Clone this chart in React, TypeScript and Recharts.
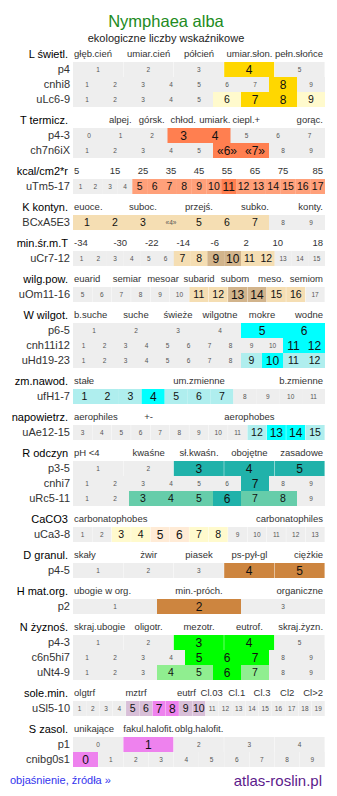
import { Bar, BarChart, Cell, LabelList, XAxis, YAxis } from "recharts";

const FONT = '"Liberation Sans", Arial, Helvetica, sans-serif';
const GREY = "#eeeeee";
const STRIP_W = 252;
const ROW_H = 15;

// cell labels
const C0_4 = ["0", "1", "2", "3", "4"];
const C0_7 = ["0", "1", "2", "3", "4", "5", "6", "7"];
const C0_9 = ["0", "1", "2", "3", "4", "5", "6", "7", "8", "9"];
const C1_3 = ["1", "2", "3"];
const C1_5 = ["1", "2", "3", "4", "5"];
const C1_6 = ["1", "2", "3", "4", "5", "6"];
const C1_9 = ["1", "2", "3", "4", "5", "6", "7", "8", "9"];
const C1_11 = ["1", "2", "3", "4", "5", "6", "7", "8", "9", "10", "11"];
const C1_12 = ["1", "2", "3", "4", "5", "6", "7", "8", "9", "10", "11", "12"];
const C1_13 = ["1", "2", "3", "4", "5", "6", "7", "8", "9", "10", "11", "12", "13"];
const C1_15 = ["1", "2", "3", "4", "5", "6", "7", "8", "9", "10", "11", "12", "13", "14", "15"];
const C1_17 = ["1", "2", "3", "4", "5", "6", "7", "8", "9", "10", "11", "12", "13", "14", "15", "16", "17"];
const C1_19 = ["1", "2", "3", "4", "5", "6", "7", "8", "9", "10", "11", "12", "13", "14", "15", "16", "17", "18", "19"];
const C3_15 = ["3", "4", "5", "6", "7", "8", "9", "10", "11", "12", "13", "14", "15"];
const C5_17 = ["5", "6", "7", "8", "9", "10", "11", "12", "13", "14", "15", "16", "17"];
const C_T_CH = ["1", "2", "3", "4", "5", "«6»", "«7»", "8", "9"];
const C_K = ["1", "2", "3", "«4»", "5", "6", "7", "8", "9"];

// levels: 0 none, 1 light, 2 strong, 3 light fill with small text
const L_P = [0, 0, 0, 2, 0];
const L_CN = [0, 0, 0, 0, 0, 0, 0, 2, 0];
const L_U = [0, 0, 0, 0, 0, 1, 2, 2, 1];
const T_P = [0, 0, 0, 2, 2, 0, 0, 0];
const T_CH = [0, 0, 0, 0, 0, 2, 2, 0, 0];
const KCAL_U = [0, 0, 0, 0, 1, 1, 1, 1, 1, 1, 2, 1, 1, 1, 1, 1, 1];
const K_BC = [1, 1, 1, 3, 1, 1, 1, 0, 0];
const MIN_U = [0, 0, 0, 0, 0, 0, 1, 1, 2, 2, 1, 1, 0, 0, 0];
const WILG_U = [0, 0, 0, 0, 0, 0, 1, 1, 2, 2, 1, 1, 0];
const W_P = [0, 0, 0, 0, 2, 2];
const W_CN = [0, 0, 0, 0, 0, 0, 0, 0, 0, 0, 2, 2];
const W_U = [0, 0, 0, 0, 0, 0, 0, 0, 1, 2, 1, 1];
const ZM_U = [1, 1, 1, 2, 1, 1, 1, 0, 0, 0, 0];
const NAP_U = [0, 0, 0, 0, 0, 0, 0, 0, 0, 1, 2, 2, 1];
const R_P = [0, 0, 2, 2, 2];
const R_CN = [0, 0, 0, 0, 0, 0, 2, 0, 0];
const R_U = [0, 0, 1, 1, 1, 2, 1, 1, 0];
const CA_U = [0, 0, 1, 1, 2, 2, 1, 1, 0, 0, 0, 0, 0];
const D_P = [0, 0, 0, 2, 2];
const H_P = [0, 2, 0];
const N_P = [0, 0, 2, 2, 0];
const N_CN = [0, 0, 0, 0, 2, 2, 2, 0, 0];
const N_U = [0, 0, 0, 1, 1, 2, 1, 0, 0];
const SOLE_U = [0, 0, 0, 0, 1, 1, 2, 2, 1, 1, 0, 0, 0, 0, 0, 0, 0, 0, 0];
const S_P = [0, 2, 0, 0, 0];
const S_CN = [2, 0, 0, 0, 0, 0, 0, 0, 0, 0];

// header labels
const H_L = ["głęb.cień", "umiar.cień", "półcień", "umiar.słon.", "pełn.słońce"];
const H_T = ["", "alpej.", "górsk.", "chłod.", "umiark.", "ciepl.+", "", "gorąc."];
const H_KCAL = ["5", "15", "25", "35", "45", "55", "65", "75", "85"];
const H_K = ["euoce.", "", "suboc.", "", "przejś.", "", "subko.", "", "konty."];
const H_MIN = ["-34", "-30", "-22", "-14", "-6", "2", "10", "18"];
const H_WILG = ["euarid", "semiar", "mesoar", "subarid", "subom", "meso.", "semiom"];
const H_W = ["b.suche", "suche", "świeże", "wilgotne", "mokre", "wodne"];
const H_ZM = ["stałe", "um.zmienne", "b.zmienne"];
const H_NAP = ["aerophiles", "+-", "", "aerophobes", ""];
const H_R = ["pH <4", "kwaśne", "sł.kwaśn.", "obojętne", "zasadowe"];
const H_CA = ["carbonatophobes", "carbonatophiles"];
const H_D = ["skały", "żwir", "piasek", "ps-pył-gl", "ciężkie"];
const H_H = ["ubogie w org.", "min.-próch.", "organiczne"];
const H_N = ["skraj.ubogie", "oligotr.", "mezotr.", "eutrof.", "skraj.żyzn."];
const H_SOLE = ["olgtrf", "", "mztrf", "", "eutrf", "Cl.03", "Cl.1", "Cl.3", "Cl2", "Cl>2"];
const H_S = ["unikające", "fakul.halofit.", "oblg.halofit.", "", ""];

type RowDef = { name: string; cells: string[]; levels: number[] };
type SectionDef = { title: string; head: string[]; light: string; strong: string; rows: RowDef[] };

const sections: SectionDef[] = [
  { title: "L świetl.", head: H_L, light: "#fffacd", strong: "#ffd700", rows: [
    { name: "p4", cells: C1_5, levels: L_P },
    { name: "cnhi8", cells: C1_9, levels: L_CN },
    { name: "uLc6-9", cells: C1_9, levels: L_U }
  ] },
  { title: "T termicz.", head: H_T, light: "#ffa07a", strong: "#ff7f50", rows: [
    { name: "p4-3", cells: C0_7, levels: T_P },
    { name: "ch7n6iX", cells: C_T_CH, levels: T_CH }
  ] },
  { title: "kcal/cm2*r", head: H_KCAL, light: "#ffa07a", strong: "#ff7f50", rows: [
    { name: "uTm5-17", cells: C1_17, levels: KCAL_U }
  ] },
  { title: "K kontyn.", head: H_K, light: "#f5deb3", strong: "#d2b48c", rows: [
    { name: "BCxA5E3", cells: C_K, levels: K_BC }
  ] },
  { title: "min.śr.m.T", head: H_MIN, light: "#f5deb3", strong: "#d2b48c", rows: [
    { name: "uCr7-12", cells: C1_15, levels: MIN_U }
  ] },
  { title: "wilg.pow.", head: H_WILG, light: "#f5deb3", strong: "#d2b48c", rows: [
    { name: "uOm11-16", cells: C5_17, levels: WILG_U }
  ] },
  { title: "W wilgot.", head: H_W, light: "#afeeee", strong: "#00ffff", rows: [
    { name: "p6-5", cells: C1_6, levels: W_P },
    { name: "cnh11i12", cells: C1_12, levels: W_CN },
    { name: "uHd19-23", cells: C1_12, levels: W_U }
  ] },
  { title: "zm.nawod.", head: H_ZM, light: "#afeeee", strong: "#00ffff", rows: [
    { name: "ufH1-7", cells: C1_11, levels: ZM_U }
  ] },
  { title: "napowietrz.", head: H_NAP, light: "#afeeee", strong: "#00ffff", rows: [
    { name: "uAe12-15", cells: C3_15, levels: NAP_U }
  ] },
  { title: "R odczyn", head: H_R, light: "#66cdaa", strong: "#20b2aa", rows: [
    { name: "p3-5", cells: C1_5, levels: R_P },
    { name: "cnhi7", cells: C1_9, levels: R_CN },
    { name: "uRc5-11", cells: C1_9, levels: R_U }
  ] },
  { title: "CaCO3", head: H_CA, light: "#fffacd", strong: "#ffebd6", rows: [
    { name: "uCa3-8", cells: C1_13, levels: CA_U }
  ] },
  { title: "D granul.", head: H_D, light: "#deb887", strong: "#cd853f", rows: [
    { name: "p4-5", cells: C1_5, levels: D_P }
  ] },
  { title: "H mat.org.", head: H_H, light: "#deb887", strong: "#cd853f", rows: [
    { name: "p2", cells: C1_3, levels: H_P }
  ] },
  { title: "N żyznoś.", head: H_N, light: "#90ee90", strong: "#00ff00", rows: [
    { name: "p4-3", cells: C1_5, levels: N_P },
    { name: "c6n5hi7", cells: C1_9, levels: N_CN },
    { name: "uNt4-9", cells: C1_9, levels: N_U }
  ] },
  { title: "sole.min.", head: H_SOLE, light: "#d8bfd8", strong: "#ee82ee", rows: [
    { name: "uSl5-10", cells: C1_19, levels: SOLE_U }
  ] },
  { title: "S zasol.", head: H_S, light: "#d8bfd8", strong: "#ee82ee", rows: [
    { name: "p1", cells: C0_4, levels: S_P },
    { name: "cnibg0s1", cells: C0_9, levels: S_CN }
  ] }
];

function Header({ title, head }: { title: string; head: string[] }) {
  const n = head.length;
  return (
    <div style={{ display: "flex", height: 21, alignItems: "flex-start" }}>
      <div style={{ width: 60, flexShrink: 0, paddingTop: 6, lineHeight: "14px", fontSize: 11, textAlign: "right", whiteSpace: "nowrap", color: "#000" }}>
        {title}
      </div>
      <div style={{ marginLeft: 5, width: STRIP_W, flexShrink: 0, display: "flex", paddingTop: 6, height: 14 }}>
        {head.map((h, i) => (
          <div key={i} style={{ flex: 1, position: "relative", height: 14 }}>
            <span
              style={{
                position: "absolute",
                top: 0,
                lineHeight: "14px",
                fontSize: 9.5,
                color: "#333",
                whiteSpace: "nowrap",
                ...(i === 0 ? { left: 1 } : i === n - 1 ? { right: 2 } : { left: "50%", transform: "translateX(-50%)" })
              }}
            >
              {h}
            </span>
          </div>
        ))}
      </div>
    </div>
  );
}

function Strip({ cells, levels, light, strong }: { cells: string[]; levels: number[]; light: string; strong: string }) {
  const data = cells.map((c, i) => ({ cell: c, v: 1, level: levels[i] }));
  const renderLabel = (p: any) => {
    const d = data[p.index] ?? data.find((c) => c.cell === p.value);
    const lv = d ? d.level : 0;
    const fs = lv === 2 ? 12 : lv === 1 ? 10.5 : 6.5;
    return (
      <text
        x={p.x + p.width / 2}
        y={p.y + p.height / 2 + fs * 0.36}
        textAnchor="middle"
        fontSize={fs}
        fontFamily={FONT}
        fill={lv === 1 || lv === 2 ? "#111" : "#555"}
      >
        {p.value}
      </text>
    );
  };
  return (
    <BarChart width={STRIP_W} height={ROW_H} data={data} margin={{ top: 0, right: 0, bottom: 0, left: 0 }} barCategoryGap={0} barGap={0}>
      <XAxis dataKey="cell" type="category" hide />
      <YAxis type="number" domain={[0, 1]} hide />
      <Bar dataKey="v" isAnimationActive={false}>
        {data.map((d, i) => (
          <Cell key={i} fill={d.level === 2 ? strong : d.level === 0 ? GREY : light} />
        ))}
        <LabelList dataKey="cell" content={renderLabel} />
      </Bar>
    </BarChart>
  );
}

export default function App() {
  return (
    <div style={{ position: "relative", width: 321, fontFamily: FONT }}>
      <div style={{ position: "absolute", top: 3, left: 0, width: 316, textAlign: "center", fontSize: 16.5, lineHeight: "20px", color: "#228b22" }}>
        Nymphaea alba
      </div>
      <div style={{ position: "absolute", top: 23, left: 0, width: 316, textAlign: "center", fontSize: 11, lineHeight: "14px", color: "#222" }}>
        ekologiczne liczby wskaźnikowe
      </div>
      <div style={{ paddingTop: 33 }}>
        {sections.map((s) => (
          <div key={s.title}>
            <Header title={s.title} head={s.head} />
            {s.rows.map((r) => (
              <div key={r.name} style={{ display: "flex", height: ROW_H }}>
                <div style={{ width: 62, flexShrink: 0, paddingRight: 3, fontSize: 11, lineHeight: `${ROW_H}px`, textAlign: "right", color: "#333", whiteSpace: "nowrap" }}>
                  {r.name}
                </div>
                <Strip cells={r.cells} levels={r.levels} light={s.light} strong={s.strong} />
              </div>
            ))}
          </div>
        ))}
      </div>
      <div style={{ display: "flex", justifyContent: "space-between", alignItems: "center", width: 314, marginTop: 4, height: 18 }}>
        <span style={{ marginLeft: 2, fontSize: 11, color: "#3333ee" }}>objaśnienie, źródła »</span>
        <span style={{ fontSize: 15, color: "#5c1a8b" }}>atlas-roslin.pl</span>
      </div>
    </div>
  );
}
